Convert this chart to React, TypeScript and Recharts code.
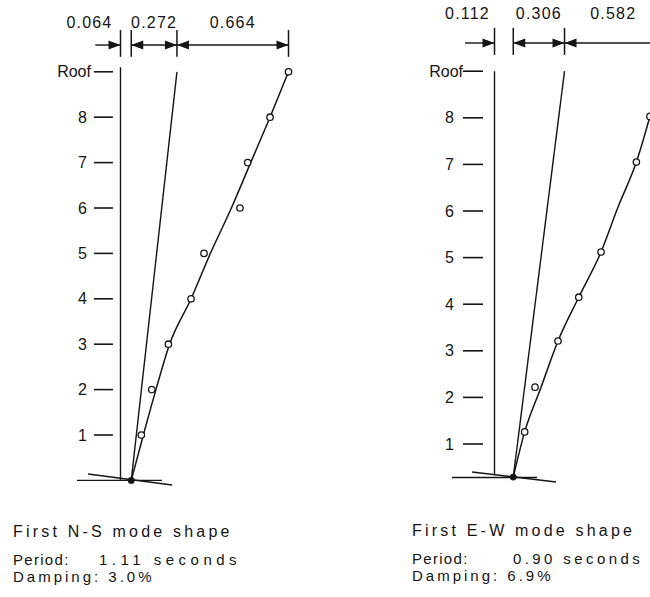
import React from 'react';
import { ComposedChart, Line, Scatter, XAxis, YAxis, ReferenceLine, ReferenceDot } from 'recharts';

const INK = '#151515';
const FONT = '"Liberation Sans", Arial, sans-serif';

// height axis: floor levels, 9 = roof
const floorTicks = [1, 2, 3, 4, 5, 6, 7, 8, 9];
const floorLabels = ['1', '2', '3', '4', '5', '6', '7', '8', 'Roof'];

// First N-S mode (displacement normalised to roof = 1)
const nsFloors = [1, 2, 3, 4, 5, 6, 7, 8, 9];
const nsMeasured = [0.124, 0.186, 0.285, 0.42, 0.497, 0.711, 0.757, 0.89, 1.0];
const nsFitFloors = [0, 1, 2, 3, 4, 5, 6, 7, 8, 9];
const nsFitted = [0.064, 0.136, 0.211, 0.292, 0.42, 0.535, 0.66, 0.775, 0.89, 1.0];
const nsParts = [0.064, 0.272, 0.664]; // base sway, rocking, flexure
const nsBaseFloor = 0;
const nsVertical = [0, 9.1];
const nsGroundFlat = [[-0.259, 0], [0.247, 0]];
const nsGroundTilt = [[-0.193, 0.141], [0.307, -0.101]];

// First E-W mode
const ewFloors = [1.26, 2.22, 3.21, 4.15, 5.12, 7.05, 8.03, 9.0];
const ewMeasured = [0.18, 0.242, 0.379, 0.503, 0.636, 0.847, 0.928, 1.0];
const ewFitFloors = [0.29, 1.26, 2.22, 3.21, 4.15, 5.12, 6.09, 7.05, 8.03, 9.0];
const ewFitted = [0.112, 0.18, 0.278, 0.379, 0.503, 0.636, 0.738, 0.847, 0.928, 1.0];
const ewParts = [0.112, 0.306, 0.582];
const ewBaseFloor = 0.29;
const ewVertical = [0.33, 9.0];
const ewGroundFlat = [[-0.254, 0.28], [0.254, 0.28]];
const ewGroundTilt = [[-0.134, 0.4], [0.367, 0.185]];

const nsCaption = ['First N-S mode shape', 'Period:', '1.11 seconds', 'Damping: 3.0%'];
const ewCaption = ['First E-W mode shape', 'Period:', '0.90 seconds', 'Damping: 6.9%'];

const nsLayout = {
  left: 0, width: 320, height: 492,
  margin: { top: 8.24, right: 14.7, bottom: 2.52, left: 0 },
  axisWidth: 112.94, xDomain: [-0.045, 1.1], yDomain: [-0.2, 10.4],
  tickSize: 19, tickMargin: 7, roofShift: 4,
  arrowY: 9.59, dimTick: [9.33, 9.92], labelY: 9.97, firstLabelX: -0.185, arrowTail: -0.15,
};

const ewLayout = {
  left: 360, width: 323.75, height: 502,
  margin: { top: 5.96, right: 5, bottom: 2.08, left: 0 },
  axisWidth: 123, xDomain: [-0.0687, 1.1], yDomain: [-0.2, 10.4],
  tickSize: 20, tickMargin: 9, roofShift: 9,
  arrowY: 9.605, dimTick: [9.35, 9.93], labelY: 10.13, firstLabelX: -0.161, arrowTail: -0.176,
};

const openCircle = (p: any) => (
  <circle cx={p.cx} cy={p.cy} r={3.2} fill="#fff" stroke={INK} strokeWidth={1.3} />
);
const solidCircle = (p: any) => <circle cx={p.cx} cy={p.cy} r={3.4} fill={INK} />;

const arrowHead = (dir: number) => (p: any) => {
  const L = 12;
  const W = 4.5;
  return (
    <polygon
      points={`${p.cx},${p.cy} ${p.cx - dir * L},${p.cy - W} ${p.cx - dir * L},${p.cy + W}`}
      fill={INK}
    />
  );
};

const dimText = (label: string) => (p: any) => (
  <text x={p.cx} y={p.cy} textAnchor="middle" fontSize={16} fontFamily={FONT} letterSpacing={1.2} fill={INK}>
    {label}
  </text>
);

function ModeShape({ g, floors, measured, fitFloors, fitted, parts, baseFloor, vertical, flat, tilt }: any) {
  const marks = [0, parts[0], parts[0] + parts[1], parts[0] + parts[1] + parts[2]];
  const topFloor = floorTicks[floorTicks.length - 1];
  const measuredData = floors.map((y: number, i: number) => ({ x: measured[i], y }));
  const fitData = fitFloors.map((y: number, i: number) => ({ x: fitted[i], y }));
  const rigidData = [{ x: marks[1], y: baseFloor }, { x: marks[2], y: topFloor }];
  const baseData = [{ x: marks[1], y: baseFloor }];
  const labelX = [g.firstLabelX, (marks[1] + marks[2]) / 2, (marks[2] + marks[3]) / 2];
  const arrows = [[g.arrowTail, marks[0]], [marks[1], marks[2]], [marks[2], marks[3]]];
  const heads = [
    { x: marks[0], dir: 1 },
    { x: marks[1], dir: -1 },
    { x: marks[2], dir: 1 },
    { x: marks[2], dir: -1 },
    { x: marks[3], dir: 1 },
  ];

  const renderTick = (p: any) => {
    const idx = floorTicks.indexOf(p.payload.value);
    const isRoof = idx === floorTicks.length - 1;
    return (
      <text
        x={p.x + (isRoof ? g.roofShift : 0)}
        y={p.y}
        dy="0.355em"
        textAnchor="end"
        fontSize={16}
        fontFamily={FONT}
        fill={INK}
      >
        {floorLabels[idx]}
      </text>
    );
  };

  return (
    <div style={{ position: 'absolute', left: g.left, top: 0 }}>
      <ComposedChart width={g.width} height={g.height} margin={g.margin}>
        <XAxis type="number" dataKey="x" domain={g.xDomain} hide />
        <YAxis
          type="number"
          dataKey="y"
          domain={g.yDomain}
          ticks={floorTicks}
          interval={0}
          axisLine={false}
          tickLine={{ stroke: INK, strokeWidth: 1.6 }}
          tickSize={g.tickSize}
          tickMargin={g.tickMargin}
          width={g.axisWidth}
          tick={renderTick}
        />
        <ReferenceLine
          segment={[{ x: 0, y: vertical[0] }, { x: 0, y: vertical[1] }]}
          stroke={INK}
          strokeWidth={1.4}
          ifOverflow="visible"
        />
        <ReferenceLine
          segment={[{ x: flat[0][0], y: flat[0][1] }, { x: flat[1][0], y: flat[1][1] }]}
          stroke={INK}
          strokeWidth={1.4}
          ifOverflow="visible"
        />
        <ReferenceLine
          segment={[{ x: tilt[0][0], y: tilt[0][1] }, { x: tilt[1][0], y: tilt[1][1] }]}
          stroke={INK}
          strokeWidth={1.4}
          ifOverflow="visible"
        />
        {marks.map((m, i) => (
          <ReferenceLine
            key={`t${i}`}
            segment={[{ x: m, y: g.dimTick[0] }, { x: m, y: g.dimTick[1] }]}
            stroke={INK}
            strokeWidth={1.5}
            ifOverflow="visible"
          />
        ))}
        {arrows.map((a, i) => (
          <ReferenceLine
            key={`a${i}`}
            segment={[{ x: a[0], y: g.arrowY }, { x: a[1], y: g.arrowY }]}
            stroke={INK}
            strokeWidth={1.4}
            ifOverflow="visible"
          />
        ))}
        {heads.map((h, i) => (
          <ReferenceDot key={`h${i}`} x={h.x} y={g.arrowY} ifOverflow="visible" shape={arrowHead(h.dir)} />
        ))}
        {parts.map((v: number, i: number) => (
          <ReferenceDot key={`l${i}`} x={labelX[i]} y={g.labelY} ifOverflow="visible" shape={dimText(v.toFixed(3))} />
        ))}
        <Line data={rigidData} dataKey="y" type="linear" stroke={INK} strokeWidth={1.4} dot={false} isAnimationActive={false} />
        <Line data={fitData} dataKey="y" type="monotone" stroke={INK} strokeWidth={1.5} dot={false} isAnimationActive={false} />
        <Scatter data={measuredData} shape={openCircle} isAnimationActive={false} />
        <Scatter data={baseData} shape={solidCircle} isAnimationActive={false} />
      </ComposedChart>
    </div>
  );
}

function Caption({ left, valueLeft, baselines, lines, valueSpacing }: any) {
  // line box as tall as the font, baseline sits ~0.82em below the box top
  const text = (size: number): React.CSSProperties => ({
    position: 'absolute',
    fontFamily: FONT,
    fontSize: size,
    lineHeight: `${size}px`,
    color: INK,
    whiteSpace: 'nowrap',
  });
  const top = (b: number, size: number) => b - size * 0.845;
  return (
    <>
      <div style={{ ...text(16), left, top: top(baselines[0], 16), letterSpacing: 3.2 }}>{lines[0]}</div>
      <div style={{ ...text(15), left, top: top(baselines[1], 15), letterSpacing: 1.3 }}>{lines[1]}</div>
      <div style={{ ...text(15), left: valueLeft, top: top(baselines[1], 15), letterSpacing: valueSpacing }}>
        {lines[2]}
      </div>
      <div style={{ ...text(15), left, top: top(baselines[2], 15), letterSpacing: 3.0 }}>{lines[3]}</div>
    </>
  );
}

export default function App() {
  return (
    <div
      style={{
        position: 'fixed',
        left: 0,
        top: 0,
        width: 650,
        height: 597,
        overflow: 'hidden',
        background: '#fff',
      }}
    >
      <ModeShape
        g={nsLayout}
        floors={nsFloors}
        measured={nsMeasured}
        fitFloors={nsFitFloors}
        fitted={nsFitted}
        parts={nsParts}
        baseFloor={nsBaseFloor}
        vertical={nsVertical}
        flat={nsGroundFlat}
        tilt={nsGroundTilt}
      />
      <ModeShape
        g={ewLayout}
        floors={ewFloors}
        measured={ewMeasured}
        fitFloors={ewFitFloors}
        fitted={ewFitted}
        parts={ewParts}
        baseFloor={ewBaseFloor}
        vertical={ewVertical}
        flat={ewGroundFlat}
        tilt={ewGroundTilt}
      />
      <Caption left={13} valueLeft={99} baselines={[538, 564.5, 582]} lines={nsCaption} valueSpacing={4.5} />
      <Caption left={412} valueLeft={513} baselines={[537, 563.5, 581]} lines={ewCaption} valueSpacing={3.4} />
    </div>
  );
}
